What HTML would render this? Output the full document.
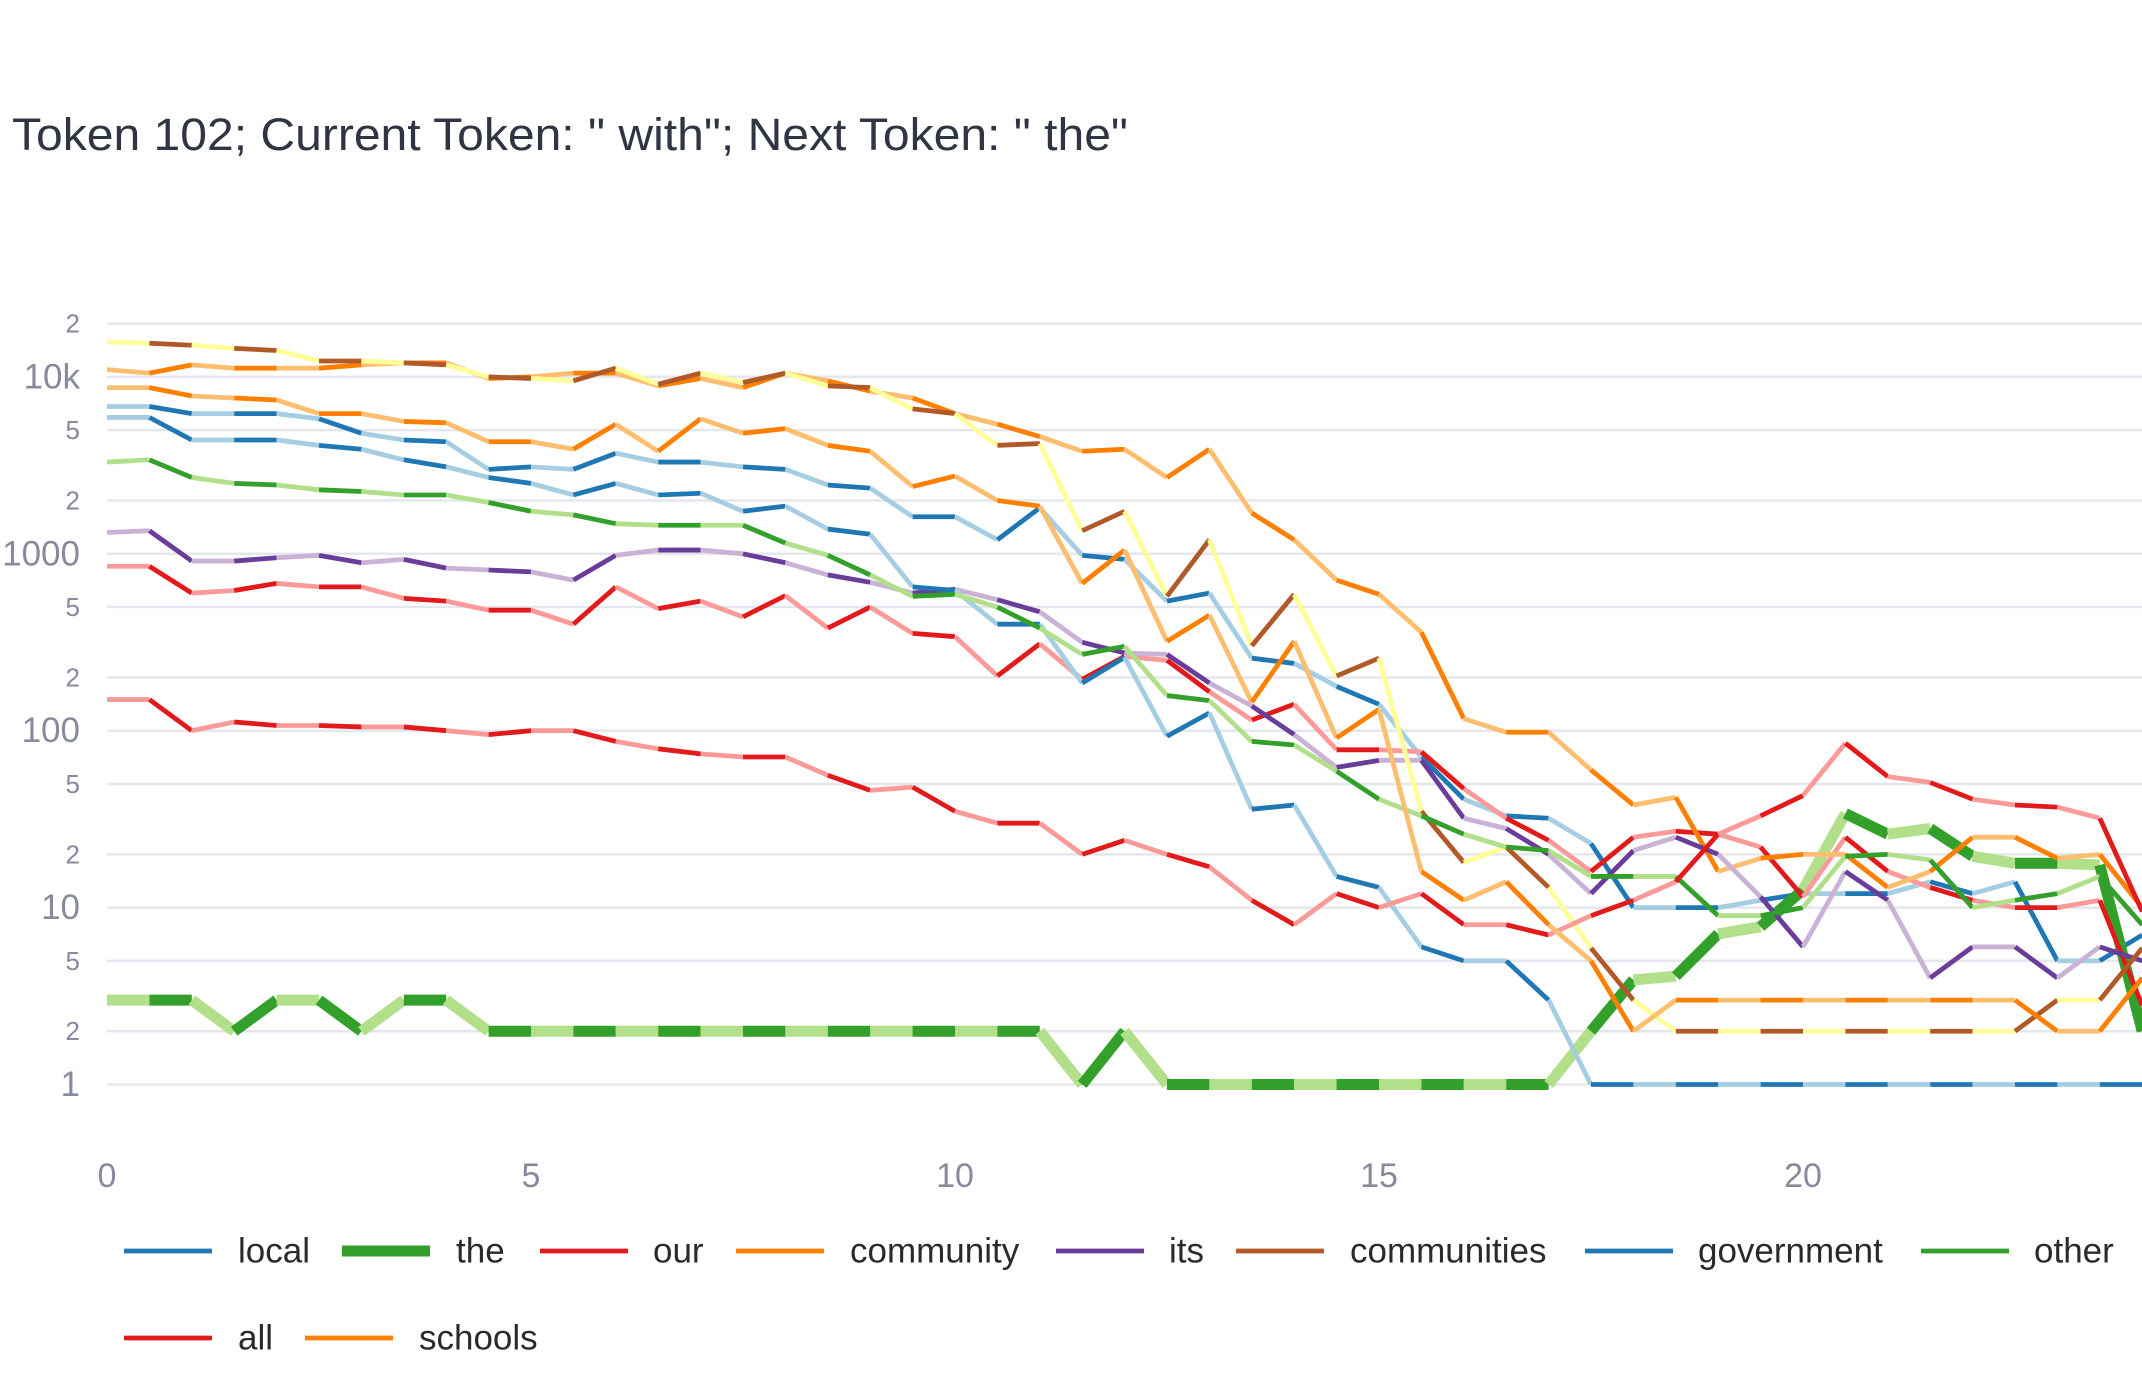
<!DOCTYPE html>
<html><head><meta charset="utf-8"><style>
html,body{margin:0;padding:0;background:#fff;}
svg{display:block;font-family:"Liberation Sans",sans-serif;}
</style></head><body>
<svg id="chart" width="2142" height="1380" viewBox="0 0 2142 1380" xmlns="http://www.w3.org/2000/svg">
<text x="12" y="150" font-size="45" fill="#2f3542" textLength="1116" lengthAdjust="spacingAndGlyphs">Token 102; Current Token: " with"; Next Token: " the"</text>
<g id="grid"></g>
<g id="yticks"></g>
<g id="xticks"></g>
<g id="series"></g>
<g id="legend"></g>
</svg>
<script>
const xs = [];
for (let i = 0; i <= 48; i++) xs.push(i / 2);
const xTicks = [0, 5, 10, 15, 20];
const yGrid = [1,2,5,10,20,50,100,200,500,1000,2000,5000,10000,20000];
const yTickLabels = ["1","2","5","10","2","5","100","2","5","1000","2","5","10k","2"];
const yTickMajor = [1,0,0,1,0,0,1,0,0,1,0,0,1,0];
const seriesNames = ["local","the","our","community","its","communities","government","other","all","schools"];
const local = [6800,6800,6200,6200,6200,5800,4800,4400,4300,3000,3100,3000,3700,3300,3300,3100,3000,2450,2350,1620,1620,1200,1820,980,930,540,600,257,240,178,141,71,41,33,32,23,10,10,10,11,12,12,12,14,12,14,5,5,7];
const the = [3,3,3,2,3,3,2,3,3,2,2,2,2,2,2,2,2,2,2,2,2,2,2,1,2,1,1,1,1,1,1,1,1,1,1,2,3.9,4.1,7.1,7.8,12.6,34,26,28,19.5,17.8,17.8,17.4,2];
const our = [850,850,600,620,680,650,650,560,540,480,480,400,650,490,540,440,580,380,500,355,340,204,310,195,263,250,166,115,141,78,78,76,47,32,24,16,25,27,26,22,11.5,25,16,13,11,10,10,11,2.8];
const community = [11000,10500,11700,11200,11200,11200,11700,12000,12000,9800,10000,10500,10500,8900,9800,8700,10500,9500,8300,7600,6200,5400,4600,3800,3900,2700,3900,1700,1200,710,590,360,117,98,98,60,38,42,16,19,20,20,13,16,25,25,19,20,10];
const its = [1320,1350,910,910,950,980,890,930,830,810,790,710,980,1050,1050,1000,890,760,690,600,630,550,470,316,275,270,186,138,95,62,68,68,32,28,20,12,21,25,20,11.5,6,16,11,4,6,6,4,6,5];
const communities = [15800,15500,15100,14500,14100,12300,12300,12000,11700,10000,9800,9500,11200,9100,10500,9300,10500,8900,8700,6600,6200,4100,4200,1350,1740,575,1200,302,590,204,257,35,18,22,13,5.9,3,2,2,2,2,2,2,2,2,2,3,3,5.9];
const government = [5900,5900,4400,4400,4400,4100,3900,3400,3100,2700,2500,2150,2500,2150,2200,1740,1860,1380,1290,650,620,400,400,186,260,93,126,36,38,15,13,6,5,5,3,1,1,1,1,1,1,1,1,1,1,1,1,1,1];
const other = [3300,3400,2700,2500,2450,2300,2250,2150,2150,1950,1740,1660,1480,1450,1450,1450,1150,980,760,575,590,500,380,270,300,158,148,87,83,59,41,33,26,22,21,15,15,15,9,9,10,19.5,20,18.6,10,11,12,15,8];
const all = [150,150,100,112,107,107,105,105,100,95,100,100,87,79,74,71,71,56,46,48,35,30,30,20,24,20,17,11,8,12,10,12,8,8,7,9,11,14,26,33,43,85,55,51,41,38,37,32,9.5];
const schools = [8700,8700,7800,7600,7400,6200,6200,5600,5500,4300,4300,3900,5400,3800,5800,4800,5100,4100,3800,2400,2750,2000,1860,680,1050,320,450,145,320,91,132,16,11,14,8,5,2,3,3,3,3,3,3,3,3,3,2,2,4];

const seriesValues = [local, the, our, community, its, communities, government, other, all, schools];
const darkColors = ["#1f78b4","#33a02c","#e31a1c","#ff7f00","#6a3d9a","#b15928","#1f78b4","#33a02c","#e31a1c","#ff7f00"];
const lightColors = ["#a6cee3","#b2df8a","#fb9a99","#fdbf6f","#cab2d6","#ffff99","#a6cee3","#b2df8a","#fb9a99","#fdbf6f"];
const widths = [4.8,11,4.8,4.8,4.8,4.8,4.8,4.8,4.8,4.8];

const NS = "http://www.w3.org/2000/svg";
function xScale(u){ return 107 + 84.8 * u; }
function yScale(v){ return 1084.5 - 176.9 * Math.log10(v); }
function mk(tag, attrs, parent){
  const e = document.createElementNS(NS, tag);
  for (const k in attrs) e.setAttribute(k, attrs[k]);
  parent.appendChild(e);
  return e;
}
const grid = document.getElementById('grid');
const yt = document.getElementById('yticks');
yGrid.forEach((v, k) => {
  const l = mk('line', {x1:107, x2:2142, y1:yScale(v), y2:yScale(v), stroke:'#e5e7ee', 'stroke-width':2.5}, grid);
  
  
  const t = mk('text', {x:80, y:yScale(v), 'text-anchor':'end', 'dominant-baseline':'central', 'font-size': yTickMajor[k] ? 35 : 26, fill:'#868a9c'}, yt);
  t.textContent = yTickLabels[k];
  
  
});
const xt = document.getElementById('xticks');
xTicks.forEach(u => {
  const t = mk('text', {x:xScale(u), y:1176, 'text-anchor':'middle', 'dominant-baseline':'central', 'font-size':34, fill:'#868a9c'}, xt);
  t.textContent = String(u);
  
  
});
const sg = document.getElementById('series');
seriesValues.forEach((vals, s) => {
  const g = mk('g', {}, sg);
  
  
  for (let k = 0; k < vals.length - 1; k++) {
    const seg = mk('line', {x1:xScale(xs[k]), y1:yScale(vals[k]), x2:xScale(xs[k+1]), y2:yScale(vals[k+1]),
      stroke: (k % 2 === 0) ? lightColors[s] : darkColors[s], 'stroke-width': widths[s], 'stroke-linecap':'butt'}, g);
    
    
  }
});
const legendSample = [[124,1251],[342,1251],[540,1251],[736,1251],[1056,1251],[1236,1251],[1585,1251],[1921,1251],[124,1338],[305,1338]];
const legendText = [238,456,653,850,1169,1350,1698,2034,238,419];
const lg = document.getElementById('legend');
seriesNames.forEach((n, s) => {
  const g = mk('g', {}, lg);
  
  
  const [lx, ly] = legendSample[s];
  mk('line', {x1:lx, x2:lx+88, y1:ly, y2:ly, stroke:darkColors[s], 'stroke-width': widths[s]}, g);
  const t = mk('text', {x:legendText[s], y:ly, 'dominant-baseline':'central', 'font-size':35, fill:'#2a2a2a'}, g);
  t.textContent = n;
});
</script>
</body></html>
